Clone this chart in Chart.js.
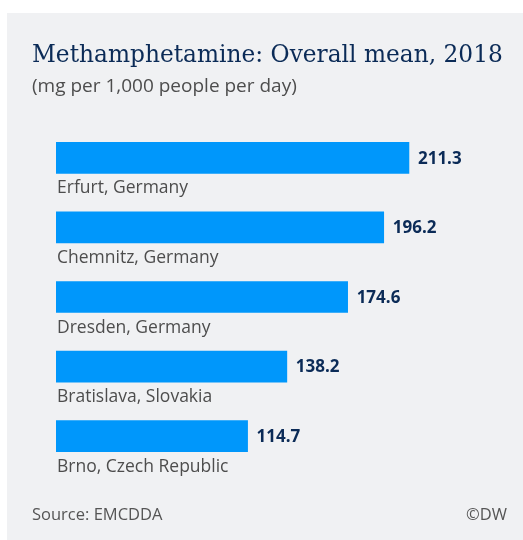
<!DOCTYPE html>
<html>
<head>
<meta charset="utf-8">
<script src="https://cdn.jsdelivr.net/npm/chart.js@4"></script>
<style>
  html, body { margin: 0; padding: 0; background: #fff; }
  #wrap { position: relative; width: 523px; height: 540px; }
  canvas { display: block; }
</style>
</head>
<body>
<div id="wrap"><canvas id="methChart" width="523" height="540"></canvas></div>
<script>
(function () {
    const cities = ['Erfurt, Germany', 'Chemnitz, Germany', 'Dresden, Germany', 'Bratislava, Slovakia', 'Brno, Czech Republic'];
    const meanValues = [211.3, 196.2, 174.6, 138.2, 114.7];

    const titleText = 'Methamphetamine: Overall mean, 2018';
    const subtitleText = '(mg per 1,000 people per day)';
    const sourceText = 'Source: EMCDDA';
    const creditText = '\u00A9DW';

    const navy = '#0b2b57';
    const grey = '#4d4d4d';
    const panelBg = '#f0f1f3';
    const barBlue = '#0097fb';
    const sans = "'Open Sans', 'Noto Sans', sans-serif";

    // panel, headings and footer
    const framePlugin = {
        id: 'frame',
        beforeDraw(chart) {
            const c = chart.ctx;
            c.save();
            c.fillStyle = '#fff';
            c.fillRect(0, 0, chart.width, chart.height);
            c.fillStyle = panelBg;
            c.fillRect(7, 13, chart.width - 7, chart.height - 13);

            c.textBaseline = 'alphabetic';
            c.textAlign = 'left';
            c.fillStyle = navy;
            c.font = "23.3px 'DejaVu Serif', serif";
            c.fillText(titleText, 32, 62);

            c.fillStyle = grey;
            c.font = '19px ' + sans;
            c.fillText(subtitleText, 32, 92);

            c.font = '16.5px ' + sans;
            c.fillStyle = '#555';
            c.fillText(sourceText, 32, 520);
            c.textAlign = 'right';
            c.fillText(creditText, 507, 520);
            c.restore();
        },
        // city names under each bar, values at the bar ends
        afterDatasetsDraw(chart) {
            const c = chart.ctx;
            const meta = chart.getDatasetMeta(0);
            c.save();
            meta.data.forEach((bar, i) => {
                const half = bar.height / 2;
                c.textAlign = 'left';
                c.textBaseline = 'alphabetic';
                c.fillStyle = grey;
                c.font = '17.5px ' + sans;
                c.fillText(cities[i], bar.base + 1, bar.y + half + 20);

                c.textBaseline = 'middle';
                c.fillStyle = navy;
                c.font = 'bold 17px ' + sans;
                c.fillText(meanValues[i].toFixed(1), bar.x + 9, bar.y + 1);
            });
            c.restore();
        }
    };

    new Chart(document.getElementById('methChart'), {
        type: 'bar',
        data: {
            labels: cities,
            datasets: [{
                data: meanValues,
                backgroundColor: barBlue,
                borderWidth: 0,
                barThickness: 31
            }]
        },
        options: {
            indexAxis: 'y',
            responsive: false,
            animation: false,
            events: [],
            layout: { padding: { left: 56, right: 16, top: 123, bottom: 69 } },
            scales: {
                x: { display: false, min: 0, max: 270 },
                y: { display: false }
            },
            plugins: {
                legend: { display: false },
                tooltip: { enabled: false }
            }
        },
        plugins: [framePlugin]
    });
})();
</script>
</body>
</html>
